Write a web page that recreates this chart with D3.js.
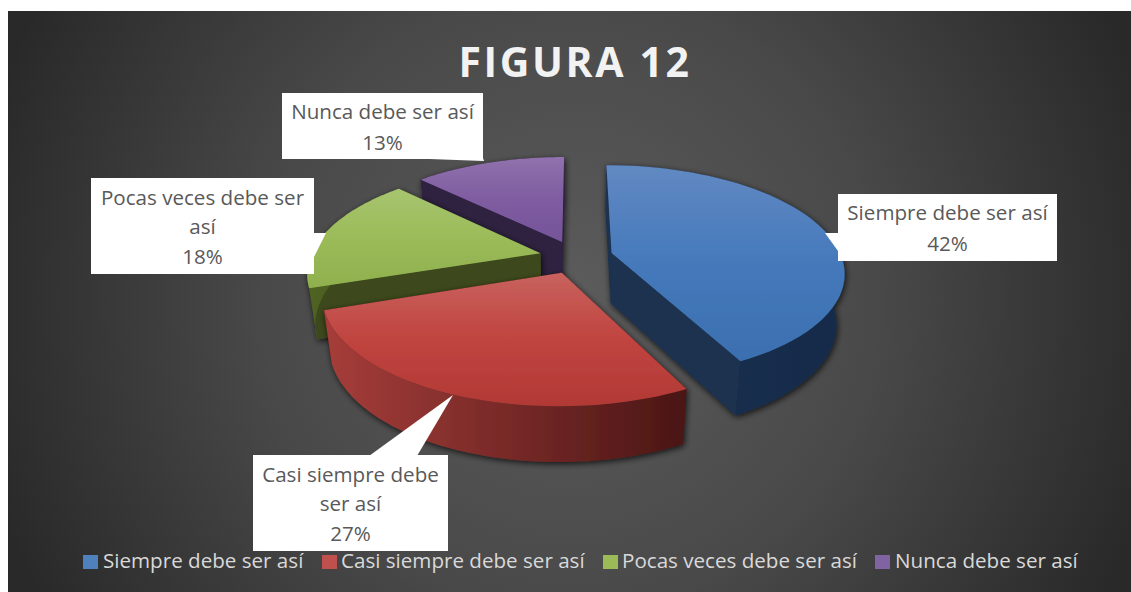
<!DOCTYPE html>
<html><head><meta charset="utf-8">
<script src="https://cdn.jsdelivr.net/npm/d3@7"></script>
<style>html,body{margin:0;padding:0;background:#fff}svg{display:block}</style>
</head><body><svg id="c" width="1131" height="592"></svg>
<script>
const categories = ["Siempre debe ser así","Casi siempre debe ser así","Pocas veces debe ser así","Nunca debe ser así"];
const values = [42.49,27.3,17.6,12.61];
const labelLines = [["Siempre debe ser así"],["Casi siempre debe","ser así"],["Pocas veces debe ser","así"],["Nunca debe ser así"]];
const titleText = "FIGURA 12";
const topStops = [["#6289c2","#4579bb","#3b6fb0"],["#c8625e","#c0443f","#b23935"],["#a7c56f","#9bbb59","#8fb04d"],["#9072ad","#7f5ca0","#75549a"]];
const wallStops = [["#1a3150","#172b49"],["#a63d3a","#4a1615"],["#4f6321","#3d4a1c"],["#2e2040","#2e2040"]];
const legendColors = ["#4f81bd","#c0504d","#9bbb59","#8064a2"];
const boxes = [
 {x:838,y:194,w:219,h:67,ptr:[[838,233],[825,233],[838,251]]},
 {x:253,y:455,w:195,h:96,ptr:[[369,456],[453,395],[417,456]]},
 {x:91,y:178,w:223,h:96,ptr:[[313,233],[326,233],[313,259]]},
 {x:282,y:93,w:201,h:66,ptr:[[402,158],[484,161],[483,158]]}
];
const W=1131,H=592,font="'Open Sans',sans-serif";
const svg=d3.select("#c"),defs=svg.append("defs");
const bg=defs.append("radialGradient").attr("id","bg").attr("gradientUnits","userSpaceOnUse")
 .attr("cx",570).attr("cy",300).attr("r",610);
bg.append("stop").attr("offset",0).attr("stop-color","#5c5c5c");
bg.append("stop").attr("offset",.5).attr("stop-color","#494949");
bg.append("stop").attr("offset",1).attr("stop-color","#292929");
const sh=defs.append("filter").attr("id","sh").attr("x","-20%").attr("y","-20%").attr("width","140%").attr("height","140%");
sh.append("feDropShadow").attr("dx",1).attr("dy",2).attr("stdDeviation",3).attr("flood-color","#000").attr("flood-opacity",.75);
svg.append("rect").attr("x",8).attr("y",11).attr("width",W-8).attr("height",H-11).attr("fill","url(#bg)");
svg.append("text").attr("x",575).attr("y",77).attr("text-anchor","middle").attr("fill","#f2f2f2")
 .attr("font-family",font).attr("font-weight",700).attr("font-size",41).attr("letter-spacing",2.6).text(titleText);

// perspective model of the pie
const cx=576,cy=257,Rx=230,ky=104.3,p=.172,explode=.16,depth=50,shrink=.97;
function P(X,Y,low){
  const s=1/(1-p*Y);
  let x=cx+Rx*X*s,y=cy+ky*Y*s;
  if(low){y+=depth*Math.sqrt(s);x=cx+(x-cx)*shrink;}
  return [x,y];
}
const line=d3.line();
const arcs=d3.pie().sort(null).value(d=>d)(values);
const geo=arcs.map((a,i)=>{
  const mid=(a.startAngle+a.endAngle)/2;
  const ox=explode*Math.sin(mid),oy=-explode*Math.cos(mid);
  const ts=d3.range(0,61).map(k=>a.startAngle+(a.endAngle-a.startAngle)*k/60);
  const rim=ts.map(t=>[ox+Math.sin(t),oy-Math.cos(t)]);
  return {i,ox,oy,rim};
});
// gradients
geo.forEach(g=>{
  const top=g.rim.map(r=>P(r[0],r[1],false)).concat([P(g.ox,g.oy,false)]);
  const ys=d3.extent(top,d=>d[1]),xs=d3.extent(top,d=>d[0]);
  const lg=defs.append("linearGradient").attr("id","t"+g.i).attr("gradientUnits","userSpaceOnUse")
    .attr("x1",0).attr("x2",0).attr("y1",ys[0]).attr("y2",ys[1]);
  topStops[g.i].forEach((c,k)=>lg.append("stop").attr("offset",k/2).attr("stop-color",c));
  const wg=defs.append("linearGradient").attr("id","w"+g.i).attr("gradientUnits","userSpaceOnUse")
    .attr("x1",xs[0]).attr("x2",xs[1]).attr("y1",0).attr("y2",0);
  wallStops[g.i].forEach((c,k)=>wg.append("stop").attr("offset",k).attr("stop-color",c));
});
const sideFill=["#1a3150","#4a1615","#3d4a1c","#2e2040"];
// back to front
[3,2,0,1].forEach(i=>{
  const g=geo[i],gp=svg.append("g").attr("filter","url(#sh)");
  const first=g.rim[0],last=g.rim[g.rim.length-1],apex=[g.ox,g.oy];
  [first,last].forEach(r=>{
    gp.append("path").attr("fill",sideFill[i]).attr("d",line([P(apex[0],apex[1]),P(r[0],r[1]),P(r[0],r[1],true),P(apex[0],apex[1],true)])+"Z");
  });
  const wall=g.rim.map(r=>P(r[0],r[1])).concat(g.rim.slice().reverse().map(r=>P(r[0],r[1],true)));
  gp.append("path").attr("fill","url(#w"+i+")").attr("d",line(wall)+"Z");
  const top=[P(apex[0],apex[1])].concat(g.rim.map(r=>P(r[0],r[1])));
  gp.append("path").attr("fill","url(#t"+i+")").attr("d",line(top)+"Z");
});
// callouts
const total=d3.sum(values);
boxes.forEach((b,i)=>{
  const c=svg.append("g");
  c.append("rect").attr("x",b.x).attr("y",b.y).attr("width",b.w).attr("height",b.h).attr("fill","#fff");
  c.append("path").attr("fill","#fff").attr("d",line(b.ptr)+"Z");
  const lines=labelLines[i].concat([d3.format(".0%")(values[i]/total)]);
  const lh=lines.length===3?29.5:31;
  const y0=b.y+b.h/2-(lines.length-1)*lh/2+8;
  lines.forEach((t,k)=>c.append("text").attr("x",b.x+b.w/2).attr("y",y0+k*lh).attr("text-anchor","middle")
    .attr("fill","#595959").attr("font-family",font).attr("font-size",20.6).text(t));
});
// legend
const legendX=[83,322,603,875],textX=[103,341,622,895];
categories.forEach((t,i)=>{
  svg.append("rect").attr("x",legendX[i]).attr("y",555).attr("width",15).attr("height",14).attr("fill",legendColors[i]);
  svg.append("text").attr("x",textX[i]).attr("y",568).attr("fill","#d9d9d9").attr("font-family",font).attr("font-size",20.6).text(t);
});
</script></body></html>
